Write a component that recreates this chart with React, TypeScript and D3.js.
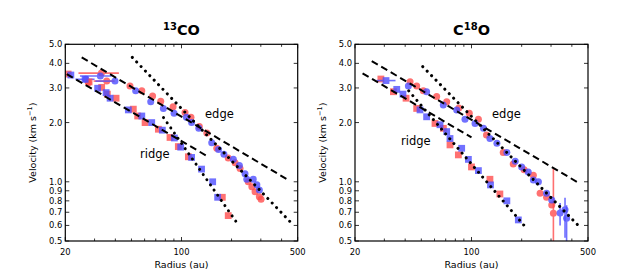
import React from "react";
import * as d3 from "d3";

// [radius au, velocity km/s, optional xlo, xhi, ylo, yhi]
type Pt = number[];

const yTicks = [0.5, 0.6, 0.7, 0.8, 0.9, 1.0, 2.0, 3.0, 4.0, 5.0];
const xTicksMajor = [20, 100, 500];
const xTicksMinor = [30, 40, 50, 60, 70, 80, 90, 200, 300, 400];

// 13CO
const co13EdgeRed: Pt[] = [
  [33, 3.57, 24, 42], [35.5, 3.25, 29.6, 39.6], [27.5, 3.19], [49, 3.07], [57.7, 2.9],
  [67, 2.73], [75, 2.57], [89, 2.41], [105, 2.25], [114, 2.13], [128, 1.91], [142, 1.77],
  [163, 1.48], [191, 1.32], [210, 1.25], [225, 1.17], [252, 1.0], [265, 0.944],
  [277, 0.89], [294, 0.84], [301, 0.815],
];
const co13EdgeBlue: Pt[] = [
  [32.5, 3.45, 24.5, 38], [39.8, 3.25, 30.3, 41.5], [26.6, 3.32, 23, 30], [53, 2.9],
  [65.3, 2.55], [77.8, 2.36], [90.2, 2.23], [107, 2.13], [115, 2.0], [127, 1.87],
  [152, 1.58], [167, 1.46], [180, 1.38], [205, 1.3], [223, 1.21], [241, 1.1],
  [247, 1.03], [270, 1.03], [284, 0.965], [294, 0.908],
];
const co13RidgeRed: Pt[] = [
  [20.8, 3.53], [27.8, 3.22], [33.1, 3.02], [35.8, 2.79], [40.4, 2.66], [51.3, 2.34],
  [54.5, 2.16], [60.4, 2.0], [72.6, 1.85], [85.3, 1.68], [95.7, 1.51], [110, 1.34],
  [176, 0.834], [191, 0.673],
];
const co13RidgeBlue: Pt[] = [
  [21.6, 3.49], [26.3, 3.32], [31.3, 2.99], [35.2, 2.84], [37.2, 2.66], [47.9, 2.32],
  [57.7, 2.16], [66.2, 2.0], [76.7, 1.83], [90.6, 1.67], [98.9, 1.5], [115, 1.33],
  [132, 1.16], [154, 1.0], [165, 0.834],
];
const co13Dashed = [
  [[25.1, 4.29], [440, 1.02]],
  [[20.4, 3.53], [145, 1.34]],
];
const co13Dotted = [
  [[50.6, 4.29], [450, 0.627]],
  [[78, 2.12], [215, 0.62]],
];

// C18O
const c18oEdgeRed: Pt[] = [
  [42.8, 3.23], [46.9, 3.07], [51.4, 2.9], [61.8, 2.71], [71, 2.55], [84, 2.37],
  [97, 2.23], [110, 2.08], [123, 1.73], [155, 1.41], [178, 1.23], [207, 1.15],
  [235, 1.08], [258, 0.875], [282, 0.834], [303, 0.762], [310, 0.692, 0, 0, 0.3, 1.17],
];
const c18oEdgeBlue: Pt[] = [
  [41.8, 3.07], [53.8, 2.87], [67.7, 2.46], [81.5, 2.32], [91.4, 2.08], [105, 1.98],
  [118, 1.87], [129, 1.66], [142, 1.57], [163, 1.41], [183, 1.27], [200, 1.19],
  [219, 1.12], [235, 1.02], [252, 1.0], [282, 0.875], [303, 0.807],
  [340, 0.694, 0, 0, 0.6, 0.78], [364, 0.72, 0, 0, 0.52, 0.83], [372, 0.652, 0, 0, 0.4, 0.76],
];
const c18oRidgeRed: Pt[] = [
  [28.6, 3.33], [34, 2.87], [40.5, 2.66], [46.9, 2.36], [60.4, 1.98], [67.8, 1.87],
  [74.3, 1.54], [83.4, 1.37], [100, 1.19], [129, 1.03], [148, 0.867],
];
const c18oRidgeBlue: Pt[] = [
  [30.7, 3.27, 27, 35], [35.6, 2.95], [38.8, 2.79], [49.1, 2.32], [53.8, 2.14], [64.7, 1.95],
  [71, 1.8], [74.3, 1.66], [87.3, 1.48], [95.8, 1.3], [110, 1.14], [130, 0.964],
  [163, 0.8], [191, 0.64],
];
const c18oDashed = [
  [[25.2, 4.11], [437, 0.99]],
  [[22.2, 3.56], [100, 1.68]],
];
const c18oDotted = [
  [[51, 3.85], [437, 0.6]],
  [[42, 2.9], [214, 0.58]],
];

const W = 634;
const H = 276;
const RED = "#ff4d4d";
const BLUE = "#4d4dff";
const font = "DejaVu Sans, sans-serif";
const Y0 = 44.3;
const Y1 = 241;

function Panel(props: any) {
  const { x0, x1, title, edge, ridge, sets, dashed, dotted, ylabX } = props;
  const x = d3.scaleLog().domain([20, 500]).range([x0, x1]);
  const y = d3.scaleLog().domain([0.5, 5]).range([Y1, Y0]);
  const line = d3
    .line<number[]>()
    .x(d => x(d[0]))
    .y(d => y(d[1]));
  const cx = (x0 + x1) / 2;

  const marks = (pts: Pt[], color: string, shape: string, key: string) =>
    pts.map((p, i) => (
      <g key={key + i} fill={color} stroke={color} opacity={0.8}>
        {p[2] ? (
          <line x1={x(p[2])} x2={x(p[3])} y1={y(p[1])} y2={y(p[1])} strokeWidth={1.6} />
        ) : null}
        {p[4] ? (
          <line x1={x(p[0])} x2={x(p[0])} y1={y(Math.max(p[4], 0.45))} y2={y(p[5])} strokeWidth={1.6} />
        ) : null}
        {shape === "o" ? (
          <circle cx={x(p[0])} cy={y(p[1])} r={3.5} stroke="none" />
        ) : (
          <rect x={x(p[0]) - 3.4} y={y(p[1]) - 3.4} width={6.8} height={6.8} stroke="none" />
        )}
      </g>
    ));

  return (
    <g>
      <defs>
        <clipPath id={"clip" + x0}>
          <rect x={x0} y={Y0} width={x1 - x0} height={Y1 - Y0} />
        </clipPath>
      </defs>
      <text x={cx} y={35} textAnchor="middle" fontFamily={font} fontWeight="bold" fontSize={14.5}>
        {title}
      </text>
      <g clipPath={`url(#clip${x0})`}>
        {marks(sets[0], RED, "o", "er")}
        {marks(sets[1], BLUE, "o", "eb")}
        {marks(sets[2], RED, "s", "rr")}
        {marks(sets[3], BLUE, "s", "rb")}
        {dashed.map((d: number[][], i: number) => (
          <path key={"d" + i} d={line(d) || ""} stroke="#000" strokeWidth={2} strokeDasharray="7,4" fill="none" />
        ))}
        {dotted.map((d: number[][], i: number) => (
          <path
            key={"t" + i}
            d={line(d) || ""}
            stroke="#000"
            strokeWidth={3}
            strokeLinecap="round"
            strokeDasharray="0.01,6.3"
            fill="none"
          />
        ))}
      </g>
      <text x={edge[0]} y={edge[1]} fontFamily={font} fontSize={11.5}>edge</text>
      <text x={ridge[0]} y={ridge[1]} fontFamily={font} fontSize={11.5}>ridge</text>

      {yTicks.map(t => (
        <g key={"y" + t}>
          <line x1={x0} x2={x0 + 4} y1={y(t)} y2={y(t)} stroke="#000" strokeWidth={0.8} />
          <line x1={x1} x2={x1 - 4} y1={y(t)} y2={y(t)} stroke="#000" strokeWidth={0.8} />
          <text x={x0 - 3} y={y(t) + 3} textAnchor="end" fontFamily={font} fontSize={8.4}>
            {t.toFixed(1)}
          </text>
        </g>
      ))}
      {xTicksMajor.map(t => (
        <g key={"xm" + t}>
          <line x1={x(t)} x2={x(t)} y1={Y1} y2={Y1 - 4} stroke="#000" strokeWidth={0.8} />
          <line x1={x(t)} x2={x(t)} y1={Y0} y2={Y0 + 4} stroke="#000" strokeWidth={0.8} />
          <text x={x(t)} y={255} textAnchor="middle" fontFamily={font} fontSize={8.4}>
            {t}
          </text>
        </g>
      ))}
      {xTicksMinor.map(t => (
        <g key={"xn" + t}>
          <line x1={x(t)} x2={x(t)} y1={Y1} y2={Y1 - 2.5} stroke="#000" strokeWidth={0.8} />
          <line x1={x(t)} x2={x(t)} y1={Y0} y2={Y0 + 2.5} stroke="#000" strokeWidth={0.8} />
        </g>
      ))}
      <rect x={x0} y={Y0} width={x1 - x0} height={Y1 - Y0} fill="none" stroke="#000" strokeWidth={1.2} />
      <text x={cx} y={268} textAnchor="middle" fontFamily={font} fontSize={9.5}>
        Radius (au)
      </text>
      <text
        transform={`translate(${ylabX},${(Y0 + Y1) / 2}) rotate(-90)`}
        textAnchor="middle"
        fontFamily={font}
        fontSize={9.5}
      >
        Velocity (km s<tspan dy={-4} fontSize={6.5}>−1</tspan>
        <tspan dy={4}>)</tspan>
      </text>
    </g>
  );
}

export default function App() {
  return (
    <svg width={W} height={H} style={{ position: "absolute", left: 0, top: 0, background: "#fff" }}>
      <Panel
        x0={65.3}
        x1={297.7}
        ylabX={36}
        title={
          <>
            <tspan fontSize={10} dy={-5}>13</tspan>
            <tspan dy={5}>CO</tspan>
          </>
        }
        edge={[205, 118]}
        ridge={[140, 158]}
        sets={[co13EdgeRed, co13EdgeBlue, co13RidgeRed, co13RidgeBlue]}
        dashed={co13Dashed}
        dotted={co13Dotted}
      />
      <Panel
        x0={355}
        x1={588}
        ylabX={326}
        title={
          <>
            C<tspan fontSize={10} dy={-5}>18</tspan>
            <tspan dy={5}>O</tspan>
          </>
        }
        edge={[492, 118]}
        ridge={[401, 145]}
        sets={[c18oEdgeRed, c18oEdgeBlue, c18oRidgeRed, c18oRidgeBlue]}
        dashed={c18oDashed}
        dotted={c18oDotted}
      />
    </svg>
  );
}
